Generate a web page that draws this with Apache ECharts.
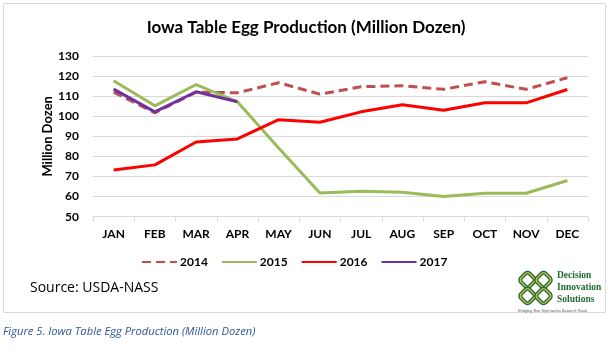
<!DOCTYPE html>
<html>
<head>
<meta charset="utf-8">
<script src="https://cdn.jsdelivr.net/npm/echarts@6/dist/echarts.min.js"></script>
<style>
html,body{margin:0;padding:0;background:#fff;}
#c{width:612px;height:357px;}
</style>
</head>
<body>
<div id="c"></div>
<script>
var months = ['JAN','FEB','MAR','APR','MAY','JUN','JUL','AUG','SEP','OCT','NOV','DEC'];
var y2014 = [112, 101.7, 112, 111.7, 116.7, 111, 114.7, 115.2, 113.4, 117.2, 113.4, 119.2];
var y2015 = [117.7, 105.2, 115.8, 107.2, 84.2, 61.8, 62.7, 62.2, 60, 61.7, 61.7, 68];
var y2016 = [73.3, 75.8, 87.2, 88.7, 98.3, 97, 102.2, 105.7, 103, 106.7, 106.7, 113.3];
var y2017 = [113.5, 102.2, 112.2, 107.2];
var seriesNames = ['2014','2015','2016','2017'];
var yTicks = {min: 50, max: 130, interval: 10};

var chart = echarts.init(document.getElementById('c'), null, {renderer:'canvas'});
var F = 'Lato, "Open Sans", sans-serif';
function knotGraphics(){
  var cx = 535.5, cy = 288, g = [];
  var offs = [[-8,-8],[8,-8],[-8,8],[8,8]];
  offs.forEach(function(o){
    g.push({type:'rect', x:cx+o[0], y:cy+o[1], shape:{x:-6,y:-6,width:12,height:12,r:3},
      rotation:Math.PI/4, originX:0, originY:0,
      style:{fill:'none', stroke:'#1e6b30', lineWidth:4}});
    g.push({type:'rect', x:cx+o[0], y:cy+o[1], shape:{x:-6,y:-6,width:12,height:12,r:3},
      rotation:Math.PI/4, originX:0, originY:0,
      style:{fill:'none', stroke:'#f3cf5a', lineWidth:1.2}});
  });
  return g;
}
var graphics = [
  {type:'rect', shape:{x:3.5,y:3.5,width:602,height:309}, style:{fill:'none', stroke:'#d9d9d9', lineWidth:1}, z:-1},
  {type:'text', x:30, y:288, style:{text:'Source: USDA-NASS', font:'14px "Open Sans", sans-serif', fill:'#000', textVerticalAlign:'middle'}},
  {type:'text', x:3, y:332, style:{text:'Figure 5. Iowa Table Egg Production (Million Dozen)', font:'italic 11.2px "Open Sans", sans-serif', fill:'#2f5597', textVerticalAlign:'middle'}},
  {type:'text', x:557, y:276, style:{text:'Decision', font:'bold 9.5px "Liberation Serif", serif', fill:'#1e6b30', textVerticalAlign:'middle'}},
  {type:'text', x:557, y:288, style:{text:'Innovation', font:'bold 9.5px "Liberation Serif", serif', fill:'#1e6b30', textVerticalAlign:'middle'}},
  {type:'text', x:557, y:300, style:{text:'Solutions', font:'bold 9.5px "Liberation Serif", serif', fill:'#1e6b30', textVerticalAlign:'middle'}},
  {type:'text', x:518, y:310.5, style:{text:'Bridging Your Information Research Needs', font:'italic 4px "Liberation Serif", serif', fill:'#555', textVerticalAlign:'middle'}}
].concat(knotGraphics());

var colors = ['#C0504D','#9BBB59','#FF0000','#7030A0'];
var datas = [y2014, y2015, y2016, y2017];
var series = seriesNames.map(function(n,i){
  return {
    name:n, type:'line', data:datas[i], symbol:'none', smooth:false,
    lineStyle:{color:colors[i], width:3, type: i===0 ? [9,5] : 'solid', cap:'butt'},
    itemStyle:{color:colors[i]},
    z: i===3 ? 5 : (i===0 ? 2 : 3)
  };
});

chart.setOption({
  animation:false,
  backgroundColor:'#fff',
  title:{text:'Iowa Table Egg Production (Million Dozen)', left:'center', top:14,
    textStyle:{fontFamily:F, fontWeight:'bold', fontSize:17, color:'#000'}},
  grid:{left:93, right:24, top:56, bottom:140.3},
  legend:{data:seriesNames, left:136, top:251, itemWidth:35, itemHeight:14, itemGap:13,
    itemStyle:{opacity:0},
    textStyle:{fontFamily:F, fontWeight:'bold', fontSize:12, color:'#000', padding:[0,0,0,-2]}},
  xAxis:{type:'category', data:months, boundaryGap:true,
    axisLine:{lineStyle:{color:'#d9d9d9'}},
    axisTick:{show:true, length:5, lineStyle:{color:'#d9d9d9'}},
    axisLabel:{fontFamily:F, fontWeight:'bold', fontSize:12, color:'#000', margin:11}},
  yAxis:{type:'value', min:yTicks.min, max:yTicks.max, interval:yTicks.interval,
    name:'Million Dozen', nameLocation:'middle', nameGap:39, nameMoveOverlap:false,
    nameTextStyle:{fontFamily:F, fontWeight:'bold', fontSize:13, color:'#000'},
    axisLine:{show:false}, axisTick:{show:false},
    splitLine:{lineStyle:{color:'#d9d9d9'}},
    axisLabel:{fontFamily:F, fontWeight:'bold', fontSize:12, color:'#000', margin:14}},
  series:series,
  graphic:graphics
});
</script>
</body>
</html>
